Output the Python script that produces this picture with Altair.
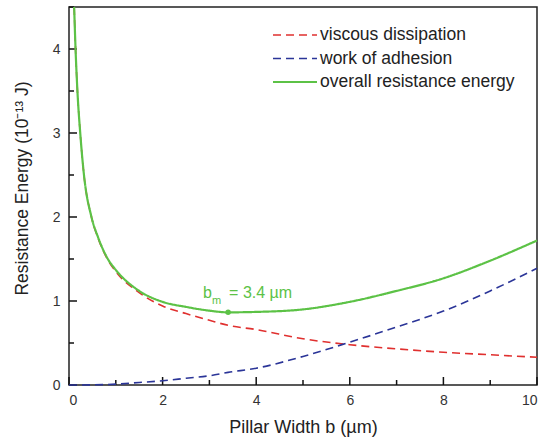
import altair as alt
import pandas as pd

# Pillar width b (µm) sampled along the viscous and overall curves
b_resist = [0.11, 0.14, 0.18, 0.24, 0.32, 0.48, 0.62, 0.83, 1.0, 1.5, 2.0, 2.5,
            3.0, 3.4, 4.0, 5.0, 6.0, 7.0, 8.0, 9.0, 10.0]
viscous = [4.5, 4.0, 3.5, 3.0, 2.5, 2.0, 1.75, 1.49, 1.35, 1.10, 0.94, 0.85,
           0.77, 0.71, 0.66, 0.55, 0.48, 0.43, 0.39, 0.36, 0.33]
overall = [4.5, 4.0, 3.5, 3.0, 2.5, 2.0, 1.76, 1.5, 1.37, 1.12, 0.99, 0.93,
           0.885, 0.865, 0.87, 0.90, 0.99, 1.12, 1.27, 1.48, 1.72]

# Pillar width b (µm) sampled along the adhesion curve
b_adh = [0, 0.5, 1.0, 1.5, 2.0, 2.5, 3.0, 3.4, 4.0, 5.0, 6.0, 7.0, 8.0, 9.0, 10.0]
adhesion = [0, 0.002, 0.01, 0.03, 0.05, 0.08, 0.11, 0.15, 0.20, 0.34, 0.51,
            0.69, 0.88, 1.12, 1.39]

series_names = ["viscous dissipation", "work of adhesion", "overall resistance energy"]
series_colors = ["#e0302f", "#2b3598", "#5cc246"]
series_dash = [[8, 5], [8, 5], [1, 0]]

# optimum pillar width
b_min = 3.4
e_min = 0.865

x_major = [0, 2, 4, 6, 8, 10]
x_minor = [1, 3, 5, 7, 9]
y_major = [0, 1, 2, 3, 4]
y_minor = [0.5, 1.5, 2.5, 3.5, 4.5]

W, H = 468, 378
FONT = "Liberation Sans"
X_MAX, Y_MAX = 10.0, 4.5

rows = []
for b, v in zip(b_resist, viscous):
    rows.append({"b": b, "E": v, "series": series_names[0]})
for b, v in zip(b_adh, adhesion):
    rows.append({"b": b, "E": v, "series": series_names[1]})
for b, v in zip(b_resist, overall):
    rows.append({"b": b, "E": v, "series": series_names[2]})
df = pd.DataFrame(rows)

xs = alt.Scale(domain=[0, X_MAX], nice=False, zero=False)
ys = alt.Scale(domain=[0, Y_MAX], nice=False, zero=False)

x_axis = alt.Axis(
    values=x_major, ticks=False, domain=False, grid=False,
    labelFontSize=14, labelColor="#333", labelFont=FONT, labelPadding=8,
    title="Pillar Width b (µm)", titleFontSize=18, titleFont=FONT,
    titleFontWeight="normal", titleColor="#222",
    titleBaseline="alphabetic", titleY=47)
y_axis = alt.Axis(
    values=y_major, format="d", ticks=False, domain=False, grid=False,
    labelFontSize=14, labelColor="#333", labelFont=FONT, labelPadding=9,
    title="Resistance Energy (10⁻¹³ J)", titleFontSize=17.5, titleFont=FONT,
    titleFontWeight="normal", titleColor="#222",
    titleBaseline="middle", titleX=-47, titleY=181)

# inward tick marks on the bottom and left axes: segments from the axis line
# into the plot, 8 px for labelled values and 5 px between them
tick_rows = []
for v in x_major:
    tick_rows.append({"b": float(v), "b2": float(v), "E": 0.0, "E2": Y_MAX * 8 / H})
for v in x_minor:
    tick_rows.append({"b": float(v), "b2": float(v), "E": 0.0, "E2": Y_MAX * 5 / H})
for v in y_major:
    tick_rows.append({"b": 0.0, "b2": X_MAX * 8 / W, "E": float(v), "E2": float(v)})
for v in y_minor:
    tick_rows.append({"b": 0.0, "b2": X_MAX * 5 / W, "E": float(v), "E2": float(v)})
ticks = alt.Chart(pd.DataFrame(tick_rows)).mark_rule(color="#111", strokeWidth=1.5).encode(
    x=alt.X("b:Q", scale=xs, axis=x_axis), x2="b2:Q",
    y=alt.Y("E:Q", scale=ys, axis=y_axis), y2="E2:Q")

lines = []
for name, color, dash, width in zip(series_names, series_colors, series_dash, [1.6, 1.6, 2.2]):
    lines.append(
        alt.Chart(df).transform_filter(alt.datum.series == name)
        .mark_line(color=color, strokeDash=dash, strokeWidth=width, interpolate="monotone")
        .encode(x=alt.X("b:Q", scale=xs), y=alt.Y("E:Q", scale=ys))
    )

# optimum marker and its label
opt = pd.DataFrame({"b": [b_min], "E": [e_min]})
dot = alt.Chart(opt).mark_point(filled=True, size=30, color=series_colors[2], opacity=1).encode(
    x=alt.X("b:Q", scale=xs), y=alt.Y("E:Q", scale=ys))
lab_b = alt.Chart(opt).mark_text(text="b", font=FONT, fontSize=16, color=series_colors[2],
                                 align="left", baseline="alphabetic", dx=-25, dy=-14).encode(
    x=alt.X("b:Q", scale=xs), y=alt.Y("E:Q", scale=ys))
lab_m = alt.Chart(opt).mark_text(text="m", font=FONT, fontSize=11, color=series_colors[2],
                                 align="left", baseline="alphabetic", dx=-16, dy=-8).encode(
    x=alt.X("b:Q", scale=xs), y=alt.Y("E:Q", scale=ys))
lab_v = alt.Chart(opt).mark_text(text=f"= {b_min} µm", font=FONT, fontSize=16,
                                 color=series_colors[2], align="left", baseline="alphabetic",
                                 dx=1, dy=-14).encode(
    x=alt.X("b:Q", scale=xs), y=alt.Y("E:Q", scale=ys))

# legend: short line sample followed by the series name
legend = []
for i, (name, color, dash) in enumerate(zip(series_names, series_colors, series_dash)):
    yc = 28 + i * 23.5
    legend.append(alt.Chart(pd.DataFrame({"s": [name]})).mark_rule(
        color=color, strokeDash=dash, strokeWidth=1.6 if i < 2 else 2.2).encode(
        x=alt.value(204), x2=alt.value(248), y=alt.value(yc)))
    legend.append(alt.Chart(pd.DataFrame({"s": [name]})).mark_text(
        font=FONT, fontSize=17.5, color="#222", align="left", baseline="middle").encode(
        text="s:N", x=alt.value(251), y=alt.value(yc)))

chart = alt.layer(ticks, *lines, dot, lab_b, lab_m, lab_v, *legend).properties(
    width=W, height=H,
    autosize=alt.AutoSizeParams(type="none"),
    padding={"left": 69, "top": 7, "right": 14, "bottom": 57},
    background="white",
).configure_view(stroke="#222", strokeWidth=1.5)

chart.save("out.html", embed_options={"renderer": "svg", "actions": False})
